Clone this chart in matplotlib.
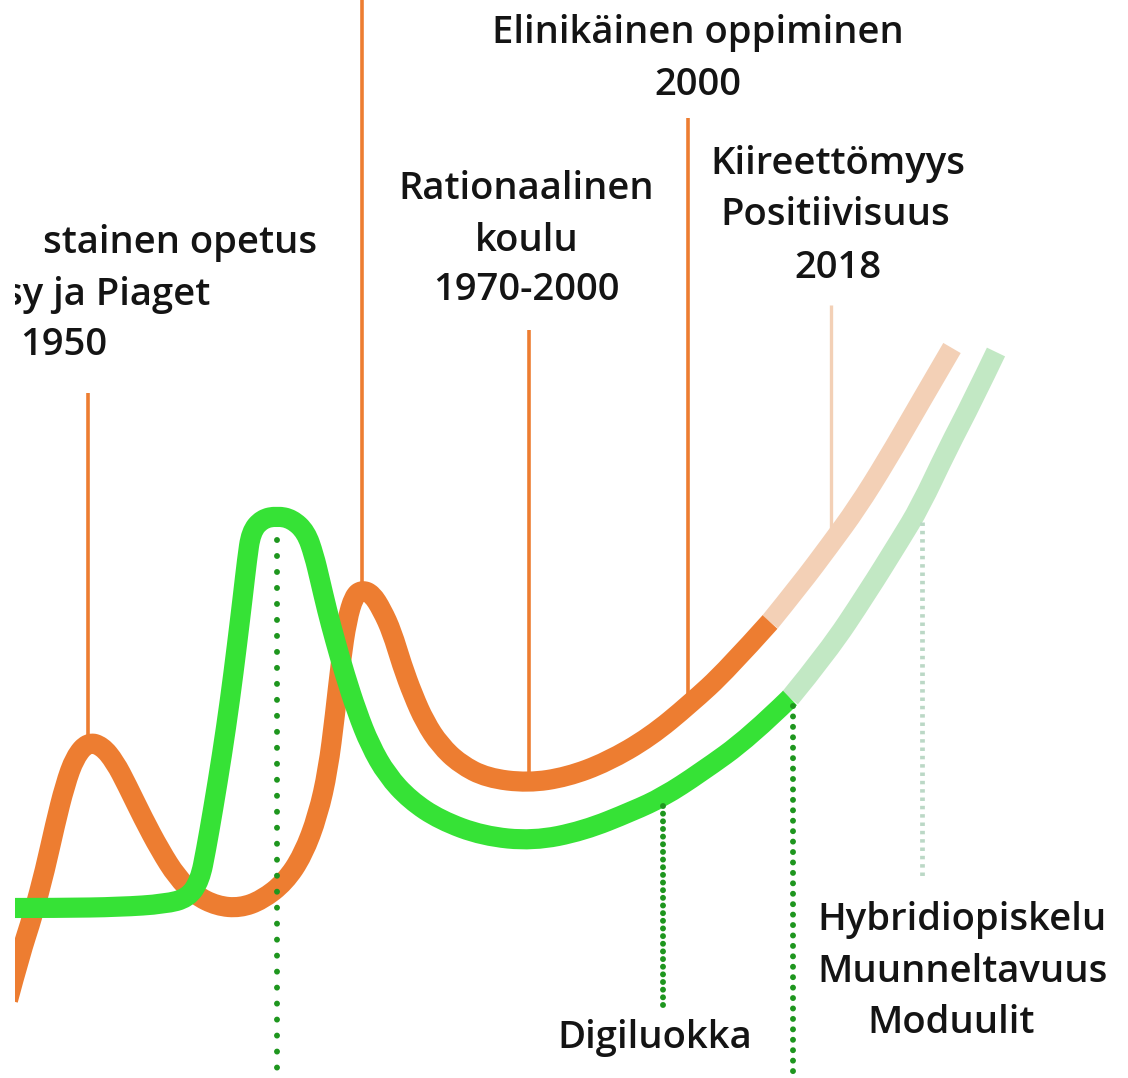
import matplotlib
matplotlib.use("Agg")
import matplotlib.pyplot as plt
from matplotlib.path import Path
from matplotlib.patches import PathPatch

plt.rcParams['lines.scale_dashes'] = False

# ---- data (image pixel coordinates: x right, y down) ----
orange_x = [8, 20, 33, 45, 55, 65, 75, 88, 102, 115, 127, 143, 160, 177, 195, 217, 240, 262,
            285, 303, 318, 328, 335, 341, 347, 354, 362, 372, 382, 392, 402, 413, 425, 440,
            460, 487, 528, 567, 607, 650, 690, 727, 770]
orange_y = [1000, 955, 915, 870, 825, 785, 757, 742, 746, 762, 785, 818, 850, 877, 895, 906, 908, 900,
            882, 855, 815, 770, 715, 660, 620, 596, 590, 594, 610, 632, 665, 695, 722, 745,
            764, 778, 783, 777, 762, 737, 704, 670, 622]
orange_fade_x = [770, 800, 830, 857, 887, 917, 952]
orange_fade_y = [622, 585, 545, 508, 460, 408, 348]

green_x = [5, 60, 120, 165, 188, 200, 206, 213, 222, 230, 237, 243, 247, 251, 262, 277, 292,
           306, 314, 320, 327, 335, 345, 357, 370, 387, 410, 440, 483, 533, 583, 633, 663,
           700, 750, 790]
green_y = [908, 908, 907, 904, 898, 880, 850, 810, 755, 700, 645, 595, 560, 532, 519, 516, 519,
           532, 555, 580, 610, 640, 675, 712, 745, 775, 800, 820, 836, 841, 831, 811, 797,
           773, 737, 698]
green_fade_x = [790, 827, 867, 900, 920, 947, 973, 996]
green_fade_y = [698, 653, 593, 540, 507, 450, 400, 352]

# milestone stems: x, top, bottom
orange_stem_x = [88, 362, 529, 688]
orange_stem_top = [393, 0, 330, 118]
orange_stem_bottom = [745, 594, 781, 700]
orange_fade_stem = (831, 305, 530)

green_stem_x = [277, 663, 793]
green_stem_top = [540, 806, 706]
green_stem_bottom = [1078, 1008, 1078]
green_fade_stem = (922, 522, 880)

# labels: text, x, baseline y, alignment
labels = [
    ("Elinikäinen oppiminen", 698, 43, 'center'),
    ("2000", 698, 95, 'center'),
    ("Rationaalinen", 526, 199, 'center'),
    ("koulu", 527, 251, 'center'),
    ("1970-2000", 526, 300, 'center'),
    ("Kiireettömyys", 838, 174, 'center'),
    ("Positiivisuus", 835, 225, 'center'),
    ("2018", 838, 278, 'center'),
    ("stainen opetus", 43, 253, 'left'),
    ("sy ja Piaget", 4, 305, 'left'),
    ("1950", 20, 355, 'left'),
    ("Digiluokka", 655, 1048, 'center'),
    ("Hybridiopiskelu", 962, 930, 'center'),
    ("Muunneltavuus", 963, 982, 'center'),
    ("Moduulit", 951, 1033, 'center'),
]

ORANGE = '#ED7D31'
ORANGE_FADE = '#F3D0B6'
GREEN = '#36E236'
GREEN_FADE = '#C2E8C4'
DOT_GREEN = '#1E961E'
DOT_FADE = '#BBD8C6'

W, H = 1128, 1078
fig = plt.figure(figsize=(W / 100, H / 100), dpi=100)
fig.patch.set_facecolor('white')
ax = fig.add_axes([15 / W, 0, (W - 15) / W, 1])
ax.set_xlim(15, W)
ax.set_ylim(H, 0)
ax.axis('off')


def smooth_curve(xs, ys, color, lw, z):
    """Quadratic Bezier path through the read points (drawn by matplotlib's Path)."""
    pts = list(zip(xs, ys))
    verts = [pts[0]]
    codes = [Path.MOVETO]
    for i in range(1, len(pts) - 1):
        p, q = pts[i], pts[i + 1]
        end = pts[-1] if i == len(pts) - 2 else ((p[0] + q[0]) / 2, (p[1] + q[1]) / 2)
        verts += [p, end]
        codes += [Path.CURVE3, Path.CURVE3]
    if len(pts) == 2:
        verts.append(pts[1])
        codes.append(Path.LINETO)
    patch = PathPatch(Path(verts, codes), facecolor='none', edgecolor=color, lw=lw,
                      capstyle='butt', joinstyle='round', zorder=z)
    ax.add_patch(patch)


# orange stems
for x, t, b in zip(orange_stem_x, orange_stem_top, orange_stem_bottom):
    ax.plot([x, x], [t, b], color=ORANGE, lw=2.6, solid_capstyle='butt', zorder=2)
ax.plot([orange_fade_stem[0]] * 2, orange_fade_stem[1:], color=ORANGE_FADE, lw=2.4,
        solid_capstyle='butt', zorder=2)

LW = 14.5
smooth_curve(orange_fade_x, orange_fade_y, ORANGE_FADE, LW, 3)
smooth_curve(orange_x, orange_y, ORANGE, LW, 4)
smooth_curve(green_fade_x, green_fade_y, GREEN_FADE, LW, 5)
smooth_curve(green_x, green_y, GREEN, LW, 6)

# dotted green stems
spacing = [11.5, 5.5, 7.5]
for (x, t, b), sp in zip(zip(green_stem_x, green_stem_top, green_stem_bottom), spacing):
    ax.plot([x, x], [t, b], color=DOT_GREEN, lw=4.3, linestyle=(0, (0.01, sp)),
            dash_capstyle='round', zorder=7)
ax.plot([green_fade_stem[0]] * 2, green_fade_stem[1:], color=DOT_FADE, lw=3.4,
        linestyle=(0, (2.5, 3.5)), dash_capstyle='butt', zorder=7)

for txt, x, y, ha in labels:
    ax.text(x, y, txt, ha=ha, va='baseline', fontsize=27.5, fontweight='semibold',
            family=['Open Sans', 'DejaVu Sans'],
            color='#141414', clip_on=True, zorder=8)

fig.savefig('out.png', dpi=100, facecolor='white')
